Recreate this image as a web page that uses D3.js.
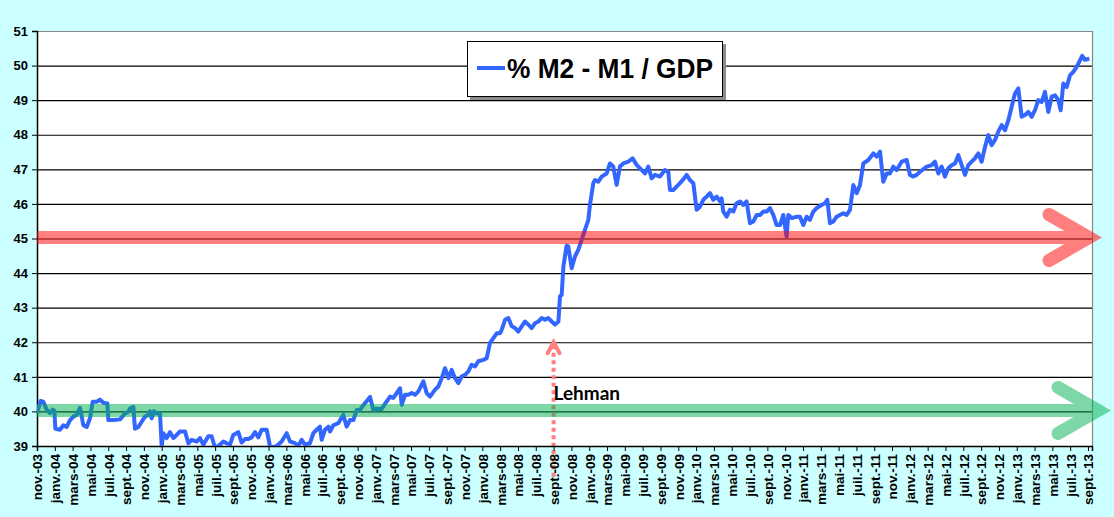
<!DOCTYPE html>
<html>
<head>
<meta charset="utf-8">
<script src="https://cdn.jsdelivr.net/npm/d3@7"></script>
<style>
    body { margin: 0; background: #ccffff; }
</style>
</head>
<body>
<div id="chart-area"></div>
<script>

// months elapsed since nov. 2003 (weekly readings)
var monthPos = [
    0.00, 0.41, 0.71, 1.09, 1.46, 1.76, 1.95, 2.06, 2.58, 2.96, 3.33, 3.71, 4.08, 4.45, 4.83, 5.01,
    5.20, 5.58, 5.95, 6.25, 6.70, 7.07, 7.45, 7.90, 8.01, 8.57, 9.32, 9.88, 10.25, 10.44, 10.82, 11.00,
    11.38, 11.75, 12.13, 12.50, 12.69, 12.87, 13.14, 13.44, 13.81, 14.00, 14.18, 14.56, 14.93, 15.31, 15.68, 16.06,
    16.62, 16.99, 17.37, 17.93, 18.30, 18.67, 19.24, 19.61, 19.99, 20.55, 20.92, 21.30, 21.67, 22.04, 22.60, 22.98,
    23.35, 23.73, 24.10, 24.48, 24.85, 25.22, 25.79, 26.16, 26.53, 26.91, 27.47, 28.03, 28.41, 28.97, 29.34, 29.72,
    30.09, 30.65, 31.03, 31.40, 31.77, 31.96, 32.34, 32.71, 32.90, 33.27, 33.83, 34.39, 34.77, 35.14, 35.52, 35.89,
    36.26, 36.64, 37.39, 37.76, 38.14, 38.70, 39.07, 39.64, 40.01, 40.38, 40.76, 40.95, 41.32, 41.69, 42.07, 42.44,
    42.82, 43.38, 43.75, 44.13, 44.69, 45.06, 45.44, 45.81, 46.19, 46.56, 46.93, 47.31, 47.68, 48.06, 48.43, 48.80,
    49.18, 49.55, 50.11, 50.49, 50.86, 51.24, 51.61, 51.99, 52.17, 52.55, 52.92, 53.30, 53.67, 54.04, 54.42, 54.79,
    55.17, 55.54, 55.92, 56.29, 56.66, 57.04, 57.41, 57.79, 58.16, 58.54, 58.72, 58.91, 59.10, 59.46, 59.65, 60.03,
    60.40, 60.77, 61.15, 61.52, 61.90, 62.08, 62.46, 62.65, 63.02, 63.39, 63.96, 64.33, 64.70, 65.08, 65.45, 65.83,
    66.39, 66.87, 67.32, 67.70, 68.26, 68.63, 69.01, 69.38, 69.94, 70.50, 70.88, 71.07, 71.44, 71.81, 72.19, 72.56,
    72.94, 73.31, 73.69, 74.06, 74.43, 74.81, 75.18, 75.56, 75.93, 76.31, 76.68, 76.87, 77.05, 77.43, 77.80, 78.18,
    78.55, 78.93, 79.30, 79.67, 80.05, 80.42, 80.80, 81.17, 81.55, 81.92, 82.29, 82.67, 83.04, 83.42, 83.79, 84.16,
    84.35, 84.73, 85.29, 85.66, 86.04, 86.41, 86.78, 87.16, 87.53, 88.09, 88.47, 88.73, 89.03, 89.40, 89.78, 90.15,
    90.53, 90.90, 91.28, 91.65, 92.03, 92.40, 92.78, 93.34, 93.90, 94.27, 94.65, 95.02, 95.40, 95.77, 96.14, 96.52,
    97.08, 97.64, 98.01, 98.39, 98.76, 99.14, 99.89, 100.45, 100.82, 101.20, 101.57, 101.94, 102.32, 102.69, 103.07, 103.44,
    103.82, 104.19, 104.56, 104.94, 105.31, 105.69, 106.06, 106.44, 106.81, 107.18, 107.56, 107.93, 108.31, 108.68, 109.06, 109.43,
    109.80, 110.18, 110.55, 110.93, 111.30, 111.68, 112.05, 112.42, 112.80, 113.17, 113.55, 113.92, 114.30, 114.67, 114.93, 115.23,
    115.61, 115.98, 116.35, 116.73, 117.10, 117.35, 117.66, 118.15
];

// % (M2 - M1) / GDP
var ratio = [
    39.95, 40.30, 40.28, 40.05, 39.95, 40.05, 40.02, 39.50, 39.47, 39.60, 39.55, 39.75, 39.85, 39.90, 40.10, 39.87,
    39.60, 39.55, 39.80, 40.28, 40.28, 40.34, 40.25, 40.23, 39.75, 39.75, 39.77, 39.94, 39.99, 40.08, 40.13, 39.50,
    39.55, 39.70, 39.85, 39.90, 40.00, 39.80, 40.00, 39.94, 39.94, 38.99, 39.37, 39.23, 39.40, 39.23, 39.32, 39.42,
    39.42, 39.08, 39.18, 39.13, 39.23, 39.04, 39.28, 39.28, 38.94, 39.04, 39.13, 39.08, 39.04, 39.32, 39.40, 39.10,
    39.20, 39.20, 39.25, 39.40, 39.25, 39.47, 39.47, 38.99, 38.97, 39.00, 39.13, 39.37, 39.13, 39.08, 39.00, 39.18,
    39.04, 39.08, 39.37, 39.47, 39.56, 39.18, 39.47, 39.56, 39.42, 39.60, 39.66, 39.90, 39.56, 39.75, 39.75, 40.04,
    40.04, 40.18, 40.42, 40.04, 40.08, 40.07, 40.22, 40.43, 40.39, 40.53, 40.67, 40.19, 40.48, 40.48, 40.53, 40.48,
    40.58, 40.87, 40.53, 40.43, 40.63, 40.72, 40.96, 41.25, 40.96, 41.20, 40.96, 40.82, 41.01, 41.06, 41.16, 41.35,
    41.30, 41.45, 41.49, 41.54, 41.98, 42.12, 42.26, 42.26, 42.36, 42.65, 42.70, 42.46, 42.41, 42.31, 42.46, 42.60,
    42.51, 42.41, 42.55, 42.60, 42.70, 42.65, 42.70, 42.60, 42.51, 42.60, 43.33, 43.37, 44.19, 44.79, 44.77, 44.14,
    44.48, 44.67, 44.96, 45.25, 45.54, 45.97, 46.60, 46.69, 46.64, 46.79, 46.88, 47.17, 47.08, 46.55, 47.08, 47.17,
    47.22, 47.32, 47.13, 47.03, 46.88, 47.08, 46.74, 46.84, 46.79, 46.98, 46.93, 46.40, 46.40, 46.50, 46.60, 46.71,
    46.84, 46.69, 46.60, 45.83, 45.92, 46.12, 46.21, 46.31, 46.12, 46.21, 46.07, 46.16, 45.78, 45.63, 45.83, 45.78,
    46.02, 46.07, 45.97, 46.07, 45.44, 45.49, 45.68, 45.68, 45.78, 45.78, 45.88, 45.68, 45.39, 45.39, 45.68, 45.06,
    45.68, 45.59, 45.63, 45.63, 45.39, 45.63, 45.54, 45.78, 45.88, 45.97, 46.02, 46.12, 45.44, 45.49, 45.63, 45.68,
    45.73, 45.68, 45.83, 46.55, 46.31, 46.55, 47.17, 47.27, 47.46, 47.37, 47.51, 46.64, 46.88, 46.88, 47.08, 46.98,
    47.22, 47.27, 46.84, 46.79, 46.84, 46.93, 47.08, 47.12, 47.22, 46.88, 47.08, 46.79, 47.03, 47.12, 47.17, 47.41,
    47.12, 46.84, 47.12, 47.22, 47.32, 47.46, 47.22, 47.65, 47.99, 47.70, 47.85, 48.09, 48.28, 48.13, 48.42, 48.81,
    49.19, 49.34, 48.52, 48.57, 48.66, 48.52, 48.71, 49.00, 48.95, 49.24, 48.66, 49.10, 49.14, 49.00, 48.71, 49.48,
    49.38, 49.72, 49.82, 49.96, 50.15, 50.28, 50.17, 50.20
];

// category labels, one every two months
var tickLabels = [
    "nov.-03", "janv.-04", "mars-04", "mai-04", "juil.-04", "sept.-04",
    "nov.-04", "janv.-05", "mars-05", "mai-05", "juil.-05", "sept.-05",
    "nov.-05", "janv.-06", "mars-06", "mai-06", "juil.-06", "sept.-06",
    "nov.-06", "janv.-07", "mars-07", "mai-07", "juil.-07", "sept.-07",
    "nov.-07", "janv.-08", "mars-08", "mai-08", "juil.-08", "sept.-08",
    "nov.-08", "janv.-09", "mars-09", "mai-09", "juil.-09", "sept.-09",
    "nov.-09", "janv.-10", "mars-10", "mai-10", "juil.-10", "sept.-10",
    "nov.-10", "janv.-11", "mars-11", "mai-11", "juil.-11", "sept.-11",
    "nov.-11", "janv.-12", "mars-12", "mai-12", "juil.-12", "sept.-12",
    "nov.-12", "janv.-13", "mars-13", "mai-13", "juil.-13", "sept.-13"
];

var yTicks = [39, 40, 41, 42, 43, 44, 45, 46, 47, 48, 49, 50, 51];

// reference levels drawn as arrows, and the Lehman marker (sept.-08)
var levels = [45, 40];
var levelColors = ["#ff0000", "#00b050"];
var lehmanMonth = 58;

var seriesName = "% M2 - M1 / GDP";


RatioChart = function(_parentElement){
    this.parentElement = _parentElement;

    this.initVis();
}

RatioChart.prototype.initVis = function(){
    var vis = this;

    vis.margin = {top: 31, right: 22, bottom: 71, left: 37};
    vis.width = 1114 - vis.margin.left - vis.margin.right;
    vis.height = 517 - vis.margin.top - vis.margin.bottom;

    vis.svg = d3.select("#" + vis.parentElement).append("svg")
        .attr("width", 1114)
        .attr("height", 517)
        .style("display", "block")
        .style("font-family", "'Liberation Sans', Arial, sans-serif");

    vis.g = vis.svg.append("g")
        .attr("transform", "translate(" + vis.margin.left + "," + vis.margin.top + ")");

    vis.data = monthPos.map(function(m, i){ return {m: m, v: ratio[i]}; });

    // scales
    vis.x = d3.scaleLinear()
        .domain([0, 118.45])
        .range([0, vis.width]);

    vis.y = d3.scaleLinear()
        .domain([39, 51])
        .range([vis.height, 0]);

    // plot background + grid
    vis.g.append("rect")
        .attr("width", vis.width)
        .attr("height", vis.height)
        .attr("fill", "#fff");

    vis.g.selectAll(".grid")
        .data(yTicks.slice(1, -1))
        .enter().append("line")
        .attr("class", "grid")
        .attr("x1", 0)
        .attr("x2", vis.width)
        .attr("y1", function(d){ return vis.y(d) + 0.5; })
        .attr("y2", function(d){ return vis.y(d) + 0.5; })
        .attr("stroke", "#000")
        .attr("stroke-width", 1.2);

    // top and right border
    vis.g.append("path")
        .attr("d", "M0,0.5H" + (vis.width + 0.5) + "V" + vis.height)
        .attr("fill", "none")
        .attr("stroke", "#888")
        .attr("stroke-width", 1.2);

    // lehman marker, behind labels
    var lx = vis.x(lehmanMonth);
    var ly = vis.y(42) - 1;
    vis.g.append("line")
        .attr("x1", lx).attr("x2", lx)
        .attr("y1", ly + 4)
        .attr("y2", vis.height + 34)
        .attr("stroke", "#ff8080")
        .attr("stroke-width", 4)
        .attr("stroke-dasharray", "4,3.5");
    vis.g.append("path")
        .attr("d", "M" + (lx - 6) + "," + (ly + 12) + "L" + lx + "," + (ly + 1) + "L" + (lx + 6) + "," + (ly + 12))
        .attr("fill", "none")
        .attr("stroke", "#ff8080")
        .attr("stroke-width", 4)
        .attr("stroke-linecap", "round");
    vis.g.append("text")
        .attr("x", lx)
        .attr("y", vis.y(40.32))
        .attr("font-family", "Lato, 'Open Sans', sans-serif")
        .attr("font-weight", "bold")
        .attr("font-size", 19)
        .attr("fill", "#000")
        .text("Lehman");

    // axes
    vis.yAxis = d3.axisLeft(vis.y)
        .tickValues(yTicks)
        .tickSize(5)
        .tickFormat(d3.format("d"));

    vis.xAxis = d3.axisBottom(vis.x)
        .tickValues(d3.range(0, 119, 2))
        .tickSize(5)
        .tickFormat(function(d, i){ return tickLabels[i]; });

    var ya = vis.g.append("g").call(vis.yAxis);
    ya.select(".domain").attr("stroke", "#000").attr("stroke-width", 1.5);
    ya.selectAll("line").attr("stroke", "#000");
    ya.selectAll("text")
        .attr("x", -9)
        .attr("font-size", 13)
        .attr("font-family", "'Liberation Sans', Arial, sans-serif")
        .attr("font-weight", "bold")
        .attr("fill", "#000");

    var xa = vis.g.append("g")
        .attr("transform", "translate(0," + vis.height + ")")
        .call(vis.xAxis);
    xa.select(".domain").attr("stroke", "#000").attr("stroke-width", 1.5);
    xa.selectAll("line").attr("stroke", "#000");
    xa.selectAll("text")
        .attr("transform", "rotate(-90)")
        .attr("x", -8)
        .attr("y", 0)
        .attr("dy", "0.36em")
        .attr("text-anchor", "end")
        .attr("font-size", 13.5)
        .attr("font-family", "'Liberation Sans', Arial, sans-serif")
        .attr("font-weight", "bold")
        .attr("fill", "#000");

    // series line, clipped to the plot
    vis.g.append("clipPath")
        .attr("id", "plot-clip")
        .append("rect")
        .attr("width", vis.width)
        .attr("height", vis.height);

    vis.line = d3.line()
        .x(function(d){ return vis.x(d.m); })
        .y(function(d){ return vis.y(d.v); });

    vis.g.append("path")
        .datum(vis.data)
        .attr("clip-path", "url(#plot-clip)")
        .attr("d", vis.line)
        .attr("fill", "none")
        .attr("stroke", "#3366ff")
        .attr("stroke-width", 4)
        .attr("stroke-linejoin", "round");

    // translucent arrows at the reference levels
    var tips = [vis.width - 3, vis.width + 6];
    levels.forEach(function(lv, i){
        var yy = vis.y(lv) - 1;
        var tip = tips[i];
        var arr = vis.g.append("g").attr("opacity", 0.5);
        arr.append("line")
            .attr("x1", 0).attr("x2", tip)
            .attr("y1", yy).attr("y2", yy)
            .attr("stroke", levelColors[i])
            .attr("stroke-width", 13);
        arr.append("path")
            .attr("d", "M" + (tip - 40) + "," + (yy - 23) + "L" + tip + "," + yy + "L" + (tip - 40) + "," + (yy + 23))
            .attr("fill", "none")
            .attr("stroke", levelColors[i])
            .attr("stroke-width", 13)
            .attr("stroke-linecap", "round")
            .attr("stroke-linejoin", "miter");
    });

    // legend box
    var lg = vis.svg.append("g").attr("transform", "translate(467,41)");
    lg.append("rect")
        .attr("x", 3).attr("y", 3)
        .attr("width", 256).attr("height", 56)
        .attr("fill", "#8c8c8c");
    lg.append("rect")
        .attr("x", 0.5).attr("y", 0.5)
        .attr("width", 255).attr("height", 55)
        .attr("fill", "#fff")
        .attr("stroke", "#000");
    lg.append("line")
        .attr("x1", 10).attr("x2", 38)
        .attr("y1", 27).attr("y2", 27)
        .attr("stroke", "#3366ff")
        .attr("stroke-width", 4);
    lg.append("text")
        .attr("x", 40)
        .attr("y", 37)
        .attr("font-size", 27)
        .attr("font-weight", "bold")
        .attr("textLength", 206)
        .attr("lengthAdjust", "spacingAndGlyphs")
        .attr("fill", "#000")
        .text(seriesName);
};

new RatioChart("chart-area");

</script>
</body>
</html>
